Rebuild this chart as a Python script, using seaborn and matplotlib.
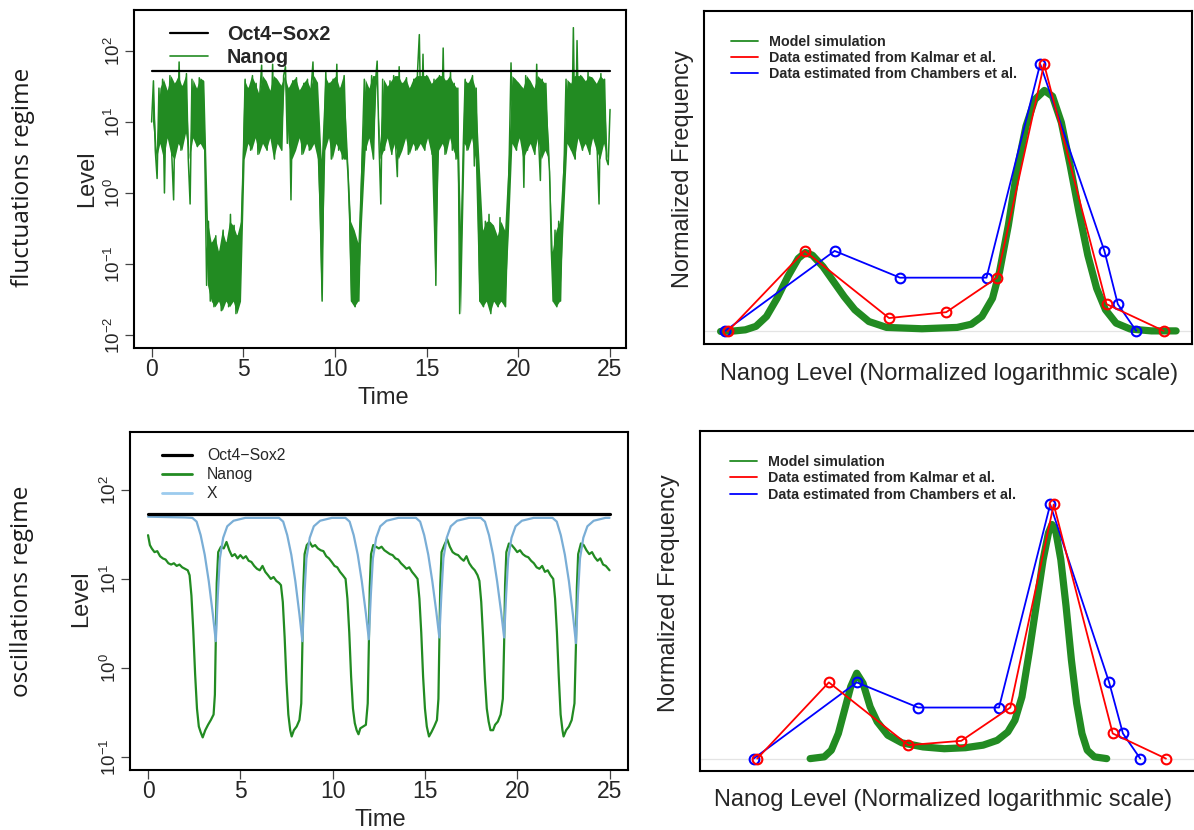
import numpy as np
import pandas as pd
import matplotlib
matplotlib.use("Agg")
import matplotlib.pyplot as plt
import seaborn as sns
from matplotlib.lines import Line2D
from matplotlib.ticker import NullLocator

# ---------------- data ----------------
# fluctuations regime: Nanog level sampled every 0.1 time units (t = 0 ... 25)
fluct_step = 0.1
fluct_nanog = [
    10, 38, 4, 1.6, 30, 5, 40, 1.0, 28, 6, 45, 3.5, 0.8, 35, 5, 70, 4, 32, 7, 48,
    3, 0.7, 40, 6, 30, 4.5, 42, 5, 38, 4,
    0.05, 0.4, 0.03, 0.2, 0.025, 0.25, 0.03, 0.15, 0.022, 0.3, 0.03, 0.2, 0.025, 0.5, 0.03,
    0.35, 0.02, 0.25, 0.03, 0.4,
    3, 40, 5, 30, 4, 45, 6, 35, 3.5, 25, 63, 5, 38, 4, 28, 6, 65, 3, 40, 5,
    33, 4, 45, 60, 5, 30, 0.8, 38, 4, 42, 6, 28, 3.5, 35, 5, 40, 4, 30, 70, 5, 36, 3, 0.6,
    0.03,
    4, 50, 6, 35, 3, 40, 5, 65, 4, 30, 3, 45, 5, 2,
    0.5, 0.03, 0.3, 0.025, 0.2, 0.03, 0.5,
    5, 40, 4, 30, 6, 45, 3, 35, 72, 5, 0.7, 40, 4, 32, 6, 38, 3.5, 45, 5, 1.7,
    60, 4, 35, 6, 42, 3.5, 30, 5, 40, 4, 50, 170, 5, 90, 4, 45, 6, 35, 3.5, 40,
    0.05,
    4, 45, 5, 110, 3.5, 38, 6, 50, 4, 35, 3, 30,
    0.02, 0.3,
    5, 40, 4, 35, 6, 45, 2.4, 30,
    1.2, 0.03, 0.3, 0.025, 0.4, 0.03, 0.5, 0.02, 0.35, 0.03, 0.25, 0.025, 0.45, 0.03, 0.3,
    0.025, 0.25,
    3, 68, 5, 40, 4, 35, 6, 30, 1.2, 45, 4, 38, 5, 30, 3.5, 65, 6, 1.5, 40, 4, 35, 5, 2,
    0.15, 0.03, 0.3, 0.025, 0.4, 0.03,
    0.5, 3, 40, 5, 35, 4, 213, 3, 140, 6, 45, 4, 38, 5, 50, 3.5, 42, 6, 35, 4,
    0.7, 48, 5, 40, 3, 2.5, 15,
]
fluct_time = np.round(np.arange(len(fluct_nanog)) * fluct_step, 2)
fluct_oct4 = 52
# typical ranges of the two states (used for the dense core of the trace)
high_state_range = (3, 45)
low_state_range = (0.02, 0.4)

# oscillations regime
osc_nanog_t = [
    0, 0.1, 0.2, 0.35, 0.5, 0.65, 0.8, 0.95, 1.1, 1.25, 1.4, 1.55, 1.7, 1.85, 2.0, 2.15, 2.25,
    2.35, 2.45, 2.55, 2.65, 2.75, 2.85, 2.96, 3.1, 3.25, 3.4, 3.55, 3.62, 3.67, 3.72, 3.8,
    3.95, 4.1, 4.25, 4.4, 4.55, 4.7, 4.85, 5.0, 5.15, 5.3, 5.45, 5.6, 5.75, 5.9, 6.05, 6.2,
    6.35, 6.5, 6.65, 6.8, 6.95, 7.1, 7.2,
    7.3, 7.4, 7.5, 7.6, 7.7, 7.78, 7.9, 8.05, 8.2, 8.3, 8.36, 8.41, 8.48,
    8.6, 8.75, 8.9, 9.05, 9.2, 9.35, 9.5, 9.65, 9.8, 9.95, 10.1, 10.25, 10.4, 10.55, 10.7,
    10.8, 10.9, 11.0, 11.1, 11.2, 11.3, 11.4, 11.5, 11.65, 11.8, 11.9, 11.96, 12.01, 12.08,
    12.2, 12.35, 12.5, 12.65, 12.8, 12.95, 13.1, 13.25, 13.4, 13.55, 13.7, 13.85, 14.0, 14.15,
    14.3, 14.45, 14.6,
    14.7, 14.8, 14.9, 15.0, 15.1, 15.22, 15.35, 15.5, 15.65, 15.73, 15.78, 15.83, 15.9,
    16.05, 16.2, 16.35, 16.5, 16.65, 16.8, 16.95, 17.1, 17.25, 17.4, 17.55, 17.7, 17.85, 17.95,
    18.05, 18.15, 18.25, 18.35, 18.45, 18.55, 18.69, 18.8, 18.95, 19.1, 19.22, 19.29, 19.34, 19.41,
    19.55, 19.7, 19.85, 20.0, 20.15, 20.3, 20.45, 20.6, 20.75, 20.9, 21.05, 21.2, 21.35, 21.5,
    21.65, 21.8, 21.95,
    22.05, 22.15, 22.25, 22.35, 22.45, 22.51, 22.65, 22.8, 22.95, 23.1, 23.18, 23.23, 23.3,
    23.45, 23.6, 23.75, 23.9, 24.05, 24.2, 24.35, 24.5, 24.65, 24.8, 25.0,
]
osc_nanog = [
    31, 24, 22, 20, 20.5, 18, 17, 16.5, 15, 14.5, 15, 14, 14.5, 13.5, 13, 12.5, 11,
    6.5, 2.6, 0.85, 0.35, 0.22, 0.19, 0.166, 0.2, 0.23, 0.26, 0.3, 0.5, 2.0, 9, 20,
    23, 22, 26, 21, 18, 19, 17, 18.5, 17, 18, 16, 15.5, 14, 13, 12.5, 14,
    12, 11, 10, 10.5, 9.5, 9, 8.5,
    5.5, 2.2, 0.7, 0.3, 0.2, 0.17, 0.2, 0.22, 0.26, 0.4, 1.8, 8, 19,
    24, 26, 23, 24, 22, 21, 20.5, 18, 17, 15.5, 14, 13.5, 12, 11, 10,
    6, 2.5, 0.8, 0.35, 0.24, 0.2, 0.18, 0.21, 0.22, 0.23, 0.4, 1.8, 8, 19,
    24, 23, 22, 23, 21, 20, 19, 18.5, 17, 16.5, 15, 14, 13, 13.5,
    12, 11, 10,
    6, 2.5, 0.8, 0.35, 0.22, 0.17, 0.19, 0.22, 0.26, 0.45, 1.9, 8.5, 20,
    24, 28, 23, 20, 19, 18.5, 17, 16, 18, 15, 13.5, 12.5, 11, 9.5,
    5.5, 2.2, 0.75, 0.35, 0.25, 0.2, 0.2, 0.23, 0.25, 0.3, 0.45, 1.9, 8.5, 20,
    25, 24, 22, 20, 21, 19, 18, 17.5, 16, 15, 13.5, 13, 14, 12,
    12.5, 11, 10,
    6, 2.5, 0.8, 0.3, 0.2, 0.17, 0.2, 0.22, 0.26, 0.4, 1.8, 8, 19,
    25, 24, 21, 19, 20, 17.5, 16, 17, 14.5, 14, 12.5,
]
osc_x_t = [
    0, 1.0, 2.0,
    2.40, 2.63, 2.85, 3.07, 3.29, 3.51, 3.67, 3.78, 3.89, 4.07, 4.29, 4.63, 5.27,
    7.09, 7.32, 7.54, 7.76, 7.98, 8.20, 8.36, 8.47, 8.58, 8.76, 8.98, 9.32, 9.96,
    10.69, 10.92, 11.14, 11.36, 11.58, 11.80, 11.96, 12.07, 12.18, 12.36, 12.58, 12.92, 13.56,
    14.51, 14.74, 14.96, 15.18, 15.40, 15.62, 15.78, 15.89, 16.00, 16.18, 16.40, 16.74, 17.38,
    18.02, 18.25, 18.47, 18.69, 18.91, 19.13, 19.29, 19.40, 19.51, 19.69, 19.91, 20.25, 20.89,
    21.91, 22.14, 22.36, 22.58, 22.80, 23.02, 23.18, 23.29, 23.40, 23.58, 23.80, 24.14, 24.78,
    25.0,
]
osc_x = [
    50, 49.5, 49,
    48.5, 44, 31, 18.7, 9.4, 4.0, 2.0, 6.7, 17, 29, 39, 45, 48.5,
    48.5, 44, 31, 18.7, 9.4, 4.0, 2.0, 6.7, 17, 29, 39, 45, 48.5,
    48.5, 44, 31, 18.7, 9.4, 4.1, 2.1, 6.7, 17, 29, 39, 45, 48.5,
    48.5, 44, 31, 18.7, 9.4, 4.2, 2.2, 6.7, 17, 29, 39, 45, 48.5,
    48.5, 44, 31, 18.7, 9.4, 4.2, 2.2, 6.7, 17, 29, 39, 45, 48.5,
    48.5, 44, 31, 18.7, 9.4, 3.9, 1.9, 6.7, 17, 29, 39, 45, 48.5,
    48.5,
]
osc_oct4 = 54
time_span = [0, 25]

# distributions (x: normalized log Nanog level, y: normalized frequency)
top_model_x = [0.34, 0.63, 0.847, 1.064, 1.281, 1.498, 1.715, 1.932, 2.077, 2.221, 2.439, 2.656,
               2.873, 3.090, 3.379, 3.741, 4.465, 5.188, 5.478, 5.695, 5.912, 6.056, 6.237, 6.418,
               6.599, 6.780, 6.975, 7.142, 7.323, 7.504, 7.685, 7.865, 8.046, 8.227, 8.444, 8.734,
               9.168, 9.674]
top_model_y = [0.0, 0.002, 0.006, 0.019, 0.056, 0.124, 0.204, 0.273, 0.295, 0.285, 0.242, 0.186,
               0.130, 0.081, 0.037, 0.015, 0.010, 0.015, 0.027, 0.056, 0.124, 0.223, 0.397, 0.607,
               0.768, 0.867, 0.901, 0.879, 0.781, 0.620, 0.446, 0.285, 0.161, 0.081, 0.031, 0.009,
               0.002, 0.002]
top_kalmar_x = [0.485, 2.062, 3.792, 4.964, 6.006, 6.968, 8.249, 9.421]
top_kalmar_y = [0.0, 0.301, 0.050, 0.072, 0.201, 1.0, 0.102, 0.002]
top_chambers_x = [0.434, 2.677, 4.016, 5.789, 6.889, 8.205, 8.480, 8.857]
top_chambers_y = [0.002, 0.301, 0.201, 0.201, 1.0, 0.301, 0.102, 0.002]

bot_model_x = [2.256, 2.545, 2.690, 2.834, 2.979, 3.087, 3.210, 3.340, 3.485, 3.630, 3.847, 4.136,
               4.570, 5.004, 5.438, 5.799, 6.088, 6.305, 6.450, 6.594, 6.739, 6.884, 7.028, 7.137,
               7.209, 7.281, 7.390, 7.498, 7.607, 7.715, 7.823, 7.932, 8.077, 8.330]
bot_model_y = [0.0, 0.007, 0.033, 0.099, 0.204, 0.283, 0.336, 0.296, 0.204, 0.145, 0.092, 0.062,
               0.046, 0.039, 0.043, 0.053, 0.072, 0.105, 0.151, 0.243, 0.414, 0.599, 0.783, 0.888,
               0.921, 0.901, 0.783, 0.599, 0.388, 0.217, 0.099, 0.033, 0.007, 0.0]
bot_kalmar_x = [1.171, 2.639, 4.266, 5.351, 6.356, 7.245, 8.453, 9.544]
bot_kalmar_y = [0.0, 0.30, 0.053, 0.070, 0.201, 1.0, 0.099, 0.0]
bot_chambers_x = [1.099, 3.210, 4.469, 6.124, 7.173, 8.380, 8.662, 9.017]
bot_chambers_y = [0.0, 0.30, 0.201, 0.201, 1.0, 0.30, 0.099, 0.0]

ts_labels = ["Oct4\u2212Sox2", "Nanog", "X"]
dist_labels = ["Model simulation", "Data estimated from Kalmar et al.",
               "Data estimated from Chambers et al."]
xticks_time = [0, 5, 10, 15, 20, 25]
yticks_top = [1e-2, 1e-1, 1e0, 1e1, 1e2]
yticks_top_lab = [r"$10^{-2}$", r"$10^{-1}$", r"$10^{0}$", r"$10^{1}$", r"$10^{2}$"]
yticks_bot = [1e-1, 1e0, 1e1, 1e2]
yticks_bot_lab = [r"$10^{-1}$", r"$10^{0}$", r"$10^{1}$", r"$10^{2}$"]

# ---------------- style ----------------
sns.set_style("white")
plt.rcParams["font.family"] = ["Liberation Sans", "DejaVu Sans"]
plt.rcParams["mathtext.fontset"] = "custom"
plt.rcParams["mathtext.rm"] = "Liberation Sans"
plt.rcParams["mathtext.it"] = "Liberation Sans:italic"
plt.rcParams["mathtext.bf"] = "Liberation Sans:bold"

GREEN = "#228B22"
XBLUE = "#7aaed6"
W, H = 1194, 830
fig = plt.figure(figsize=(W / 100, H / 100), dpi=100)


def rect(l, r, t, b):
    return [l / W, 1 - b / H, (r - l) / W, (b - t) / H]


ax1 = fig.add_axes(rect(134, 626, 10, 348))
ax2 = fig.add_axes(rect(704, 1192, 11, 344))
ax3 = fig.add_axes(rect(130, 628, 432, 770))
ax4 = fig.add_axes(rect(700, 1198, 431, 771))

for ax in (ax1, ax2, ax3, ax4):
    for s in ax.spines.values():
        s.set_visible(True)
        s.set_color("black")
        s.set_linewidth(1.5)

# ---------- time series panels ----------
df1 = pd.DataFrame({"t": fluct_time, "v": fluct_nanog})
# dense core of the trace: range of each pair of consecutive samples (spikes excluded)
vals = df1["v"].to_numpy()
df1["core"] = np.where(vals >= 0.6, np.clip(vals, *high_state_range),
                       np.clip(vals, *low_state_range))
df1["bin"] = np.round((np.arange(len(df1)) // 2) * 2 * fluct_step + fluct_step / 2, 3)
sns.lineplot(data=df1, x="bin", y="core", ax=ax1, estimator="median", errorbar=("pi", 100),
             color=GREEN, lw=0, err_kws={"alpha": 1.0, "linewidth": 0})
sns.lineplot(data=df1, x="t", y="v", ax=ax1, color=GREEN, lw=1.1, estimator=None, sort=False)
sns.lineplot(x=time_span, y=[fluct_oct4] * 2, ax=ax1, color="black", lw=1.6, estimator=None)

df3n = pd.DataFrame({"t": osc_nanog_t, "v": osc_nanog})
df3x = pd.DataFrame({"t": osc_x_t, "v": osc_x})
sns.lineplot(data=df3n, x="t", y="v", ax=ax3, color=GREEN, lw=1.6, estimator=None, sort=False)
sns.lineplot(data=df3x, x="t", y="v", ax=ax3, color=XBLUE, lw=1.6, estimator=None, sort=False)
sns.lineplot(x=time_span, y=[osc_oct4] * 2, ax=ax3, color="black", lw=2.3, estimator=None)

ax1.set_yscale("log")
ax3.set_yscale("log")
ax1.set_xlim(-0.96, 25.87)
ax1.set_ylim(10 ** -2.183, 10 ** 2.577)
ax3.set_xlim(-0.978, 26.0)
ax3.set_ylim(10 ** -1.146, 10 ** 2.65)

for ax, yt, ytl in ((ax1, yticks_top, yticks_top_lab), (ax3, yticks_bot, yticks_bot_lab)):
    ax.set_xticks(xticks_time)
    ax.set_xticklabels([str(v) for v in xticks_time], fontsize=16.5)
    ax.set_yticks(yt)
    ax.set_yticklabels(ytl, fontsize=13.5, rotation=90, va="center")
    ax.yaxis.set_minor_locator(NullLocator())
    ax.tick_params(axis="both", which="major", direction="out", length=6.5, width=0.9,
                   color="#444444", left=True, bottom=True)
    ax.tick_params(axis="x", pad=1)
    ax.tick_params(axis="y", pad=1)
    ax.set_xlabel("Time", fontsize=17, va="center")
    ax.set_ylabel("Level", fontsize=17, va="center")

ax1.xaxis.set_label_coords(0.506, -0.147)
ax1.yaxis.set_label_coords(-0.0955, 0.5)
ax3.xaxis.set_label_coords(0.502, -0.147)
ax3.yaxis.set_label_coords(-0.098, 0.506)

h1 = [Line2D([], [], color="black", lw=1.6), Line2D([], [], color=GREEN, lw=1.2)]
ax1.legend(h1, ts_labels[:2], loc="upper left", bbox_to_anchor=(0.0732, 0.957), frameon=False,
           borderpad=0, borderaxespad=0, handlelength=1.91, handletextpad=0.95,
           labelspacing=0.22, prop={"size": 14.3, "weight": "bold"})
h3 = [Line2D([], [], color="black", lw=2.3), Line2D([], [], color=GREEN, lw=2.0),
      Line2D([], [], color="#9ccbee", lw=2.0)]
ax3.legend(h3, ts_labels, loc="upper left", bbox_to_anchor=(0.0643, 0.952), frameon=False,
           borderpad=0, borderaxespad=0, handlelength=1.91, handletextpad=0.96,
           labelspacing=0.26, prop={"size": 11.3})

# ---------- distribution panels ----------
for ax, mx, my, kx, ky, cx, cy, xl, yl in (
        (ax2, top_model_x, top_model_y, top_kalmar_x, top_kalmar_y, top_chambers_x, top_chambers_y,
         (0, 10.0), (-0.047, 1.198)),
        (ax4, bot_model_x, bot_model_y, bot_kalmar_x, bot_kalmar_y, bot_chambers_x, bot_chambers_y,
         (0, 10.2), (-0.0487, 1.289))):
    ax.axhline(0, color="#e4e4e4", lw=0.9, zorder=0)
    sns.lineplot(x=mx, y=my, ax=ax, color=GREEN, lw=5.2, estimator=None, sort=False,
                 solid_capstyle="round", solid_joinstyle="round")
    sns.lineplot(x=cx, y=cy, ax=ax, color="blue", lw=1.3, estimator=None, sort=False,
                 marker="o", markersize=7, markerfacecolor="none", markeredgecolor="blue",
                 markeredgewidth=1.5)
    sns.lineplot(x=kx, y=ky, ax=ax, color="red", lw=1.3, estimator=None, sort=False,
                 marker="o", markersize=7, markerfacecolor="none", markeredgecolor="red",
                 markeredgewidth=1.5)
    ax.set_xlim(*xl)
    ax.set_ylim(*yl)
    ax.set_xticks([])
    ax.set_yticks([])
    ax.set_xlabel("Nanog Level (Normalized logarithmic scale)", fontsize=17, va="center")
    ax.set_ylabel("Normalized Frequency", fontsize=17, va="center")
    hd = [Line2D([], [], color=GREEN, lw=1.3), Line2D([], [], color="red", lw=1.3),
          Line2D([], [], color="blue", lw=1.3)]
    ax.legend(hd, dist_labels, loc="upper left", frameon=False, borderpad=0, borderaxespad=0,
              handlelength=1.89, handletextpad=0.77, labelspacing=0.16,
              prop={"size": 10.3, "weight": "bold"},
              bbox_to_anchor=(0.0553, 0.929) if ax is ax2 else (0.0602, 0.929))

ax2.xaxis.set_label_coords(0.502, -0.09)
ax2.yaxis.set_label_coords(-0.043, 0.526)
ax4.xaxis.set_label_coords(0.488, -0.085)
ax4.yaxis.set_label_coords(-0.062, 0.524)

# row labels
fig.text(23 / W, 1 - 177 / H, "fluctuations regime", rotation=90, ha="center", va="center",
         fontsize=17.5, family=["Open Sans", "DejaVu Sans"], color="#1a1a1a")
fig.text(22 / W, 1 - 591 / H, "oscillations regime", rotation=90, ha="center", va="center",
         fontsize=17.5, family=["Open Sans", "DejaVu Sans"], color="#1a1a1a")

fig.savefig("out.png", dpi=100)
